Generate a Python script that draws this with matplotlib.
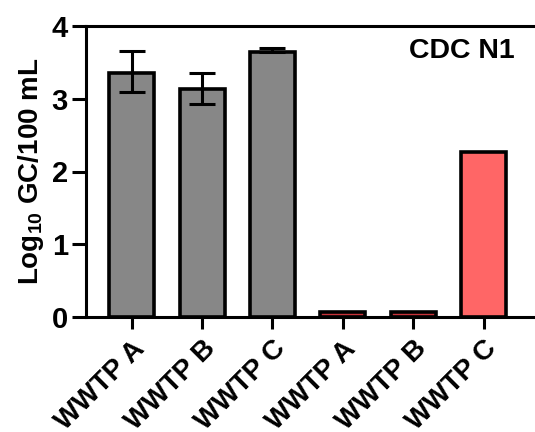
import numpy as np
import matplotlib
matplotlib.use("Agg")
import matplotlib.pyplot as plt
from matplotlib.transforms import ScaledTranslation

labels = ["WWTP A", "WWTP B", "WWTP C", "WWTP A", "WWTP B", "WWTP C"]
values = [3.35, 3.13, 3.64, 0.07, 0.07, 2.27]
err_low = [0.26, 0.20, 0.0, 0.0, 0.0, 0.0]
err_high = [0.30, 0.23, 0.06, 0.0, 0.0, 0.0]
colors = ["#878787", "#878787", "#878787", "#C8333A", "#C8333A", "#FF6666"]

plt.rcParams['font.family'] = ['Liberation Sans', 'DejaVu Sans']
plt.rcParams['font.weight'] = 'bold'
plt.rcParams['mathtext.fontset'] = 'custom'
plt.rcParams['mathtext.bf'] = 'Liberation Sans:bold'
plt.rcParams['mathtext.rm'] = 'Liberation Sans:bold'

fig = plt.figure(figsize=(5.35, 4.32), dpi=100)
ax = fig.add_axes([86 / 535, 1 - 317 / 432, 1 - 86 / 535, 291 / 432])

x = np.arange(len(labels))
ax.bar(x, values, width=0.64, color=colors, edgecolor="black", linewidth=2.6, zorder=2)
has_err = [0, 1, 2]
ax.errorbar(x[has_err], [values[i] for i in has_err],
            yerr=[[err_low[i] for i in has_err], [err_high[i] for i in has_err]],
            fmt="none", ecolor="black", elinewidth=2.2, capsize=9.5, capthick=2.2, zorder=3)

ax.set_xlim(-0.65, 5.73)
ax.set_ylim(0, 4)
ax.set_yticks([0, 1, 2, 3, 4])
ax.set_xticks(x)
ax.set_xticklabels(labels, rotation=45, ha="right", rotation_mode="anchor",
                   fontsize=20, fontweight="bold")
shift = ScaledTranslation(-0.09, -0.05, fig.dpi_scale_trans)
for lab in ax.get_xticklabels():
    lab.set_transform(lab.get_transform() + shift)
ax.tick_params(axis="y", labelsize=21, width=2.2, length=10, pad=3)
ax.tick_params(axis="x", width=2.2, length=8.5, pad=5)
for lab in ax.get_yticklabels():
    lab.set_fontweight("bold")

ax.spines["right"].set_visible(False)
for s in ["left", "bottom", "top"]:
    ax.spines[s].set_linewidth(2.2)

ax.set_ylabel("Log$_{\\mathrm{10}}$ GC/100 mL", fontsize=20, fontweight="bold", labelpad=4)
ax.text(0.955, 0.914, "CDC N1", transform=ax.transAxes, ha="right", va="center",
        fontsize=20.5, fontweight="bold")

fig.savefig("out.png", dpi=100)
